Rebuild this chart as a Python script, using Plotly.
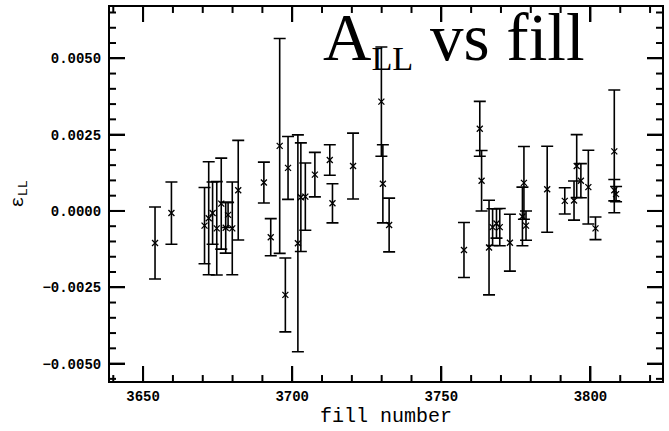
import plotly.graph_objects as go

# fill numbers, asymmetry values and their errors
fills = [3654.0, 3659.5, 3670.6, 3672.0, 3673.3, 3674.7, 3676.2, 3677.7, 3678.5,
         3679.9, 3681.9, 3690.5, 3692.8, 3695.8, 3697.7, 3698.6, 3701.9, 3702.9,
         3704.4, 3707.6, 3712.6, 3713.5, 3720.4, 3729.9, 3730.4, 3732.5, 3757.6,
         3762.9, 3763.5, 3766.0, 3767.2, 3768.5, 3769.6, 3773.0, 3777.2, 3777.7,
         3778.4, 3785.5, 3791.4, 3794.5, 3795.4, 3796.8, 3799.3, 3801.7, 3808.0,
         3808.0, 3808.6]
asym = [-1.05, -0.07, -0.48, -0.24, -0.07, -0.57, 0.24, -0.55, -0.13,
        -0.57, 0.68, 0.93, -0.86, 2.13, -2.75, 1.41, -1.06, 0.45,
        0.47, 1.19, 1.67, 0.25, 1.47, 3.58, 0.89, -0.46, -1.28,
        2.69, 0.99, -1.20, -0.53, -0.41, -0.53, -1.04, -0.18, 0.92,
        -0.48, 0.71, 0.33, 0.34, 1.47, 0.99, 0.78, -0.57, 1.95,
        0.68, 0.55]
errs = [1.18, 1.02, 1.25, 1.85, 1.02, 1.53, 1.49, 0.83, 0.41,
        1.52, 1.63, 0.67, 0.61, 3.52, 1.21, 1.03, 3.55, 1.78,
        1.10, 0.73, 0.50, 0.64, 1.08, 1.79, 1.28, 0.88, 0.90,
        0.90, 0.99, 1.55, 0.60, 0.48, 0.61, 0.93, 0.96, 1.19,
        0.48, 1.41, 0.43, 0.64, 1.03, 0.56, 1.21, 0.37, 2.01,
        0.35, 0.25]
asym = [a * 1e-3 for a in asym]
errs = [e * 1e-3 for e in errs]

x_ticks = [3650, 3700, 3750, 3800]
x_minor = [3640, 3660, 3670, 3680, 3690, 3710, 3720, 3730, 3740,
           3760, 3770, 3780, 3790, 3810, 3820]
y_ticks = [-0.005, -0.0025, 0.0, 0.0025, 0.005]
y_minor = [-0.0055, -0.0045, -0.004, -0.0035, -0.003, -0.002, -0.0015, -0.001,
           -0.0005, 0.0005, 0.001, 0.0015, 0.002, 0.003, 0.0035, 0.004, 0.0045,
           0.0055, 0.006, 0.0065]

W, H = 669, 431
M = dict(l=110, r=7, t=5, b=50)
plot_w = W - M["l"] - M["r"]
plot_h = H - M["t"] - M["b"]
MAJ, MIN = 15, 6  # tick lengths in px

fig = go.Figure()
fig.add_trace(go.Scatter(
    x=fills, y=asym, mode="markers",
    marker=dict(symbol="x-thin", size=6, color="black",
                line=dict(width=1.3, color="black")),
    error_y=dict(type="data", array=errs, visible=True, color="black",
                 thickness=1.6, width=6),
    showlegend=False,
))

# tick marks on all four sides, pointing inward
tick_line = dict(color="black", width=2)
shapes = []
for vals, ln in ((x_ticks, MAJ), (x_minor, MIN)):
    f = ln / plot_h
    for v in vals:
        shapes.append(dict(type="line", xref="x", yref="paper", x0=v, x1=v,
                           y0=0, y1=f, line=tick_line, layer="above"))
        shapes.append(dict(type="line", xref="x", yref="paper", x0=v, x1=v,
                           y0=1, y1=1 - f, line=tick_line, layer="above"))
for vals, ln in ((y_ticks, MAJ), (y_minor, MIN)):
    f = ln / plot_w
    for v in vals:
        shapes.append(dict(type="line", xref="paper", yref="y", y0=v, y1=v,
                           x0=0, x1=f, line=tick_line, layer="above"))
        shapes.append(dict(type="line", xref="paper", yref="y", y0=v, y1=v,
                           x0=1, x1=1 - f, line=tick_line, layer="above"))

tickfont = dict(family="Liberation Mono", size=14, color="black", weight="bold")

fig.update_layout(
    width=W, height=H, margin=M,
    paper_bgcolor="white", plot_bgcolor="white",
    shapes=shapes,
    xaxis=dict(range=[3638.9, 3824], tickmode="array", tickvals=x_ticks,
               ticktext=[str(v) for v in x_ticks],
               showline=True, linecolor="black", linewidth=2, mirror="allticks",
               ticks="inside", ticklen=MAJ, tickwidth=2, tickcolor="black",
               showgrid=False, zeroline=False, tickfont=tickfont,
               ticklabelstandoff=1,
               title=dict(text="fill number",
                          font=dict(family="Liberation Mono", size=20, color="#000000"),
                          standoff=0)),
    yaxis=dict(range=[-0.00557, 0.00668], tickmode="array", tickvals=y_ticks,
               tickformat=".4f",
               showline=True, linecolor="black", linewidth=2, mirror="allticks",
               ticks="inside", ticklen=MAJ, tickwidth=2, tickcolor="black",
               showgrid=False, zeroline=False, tickfont=tickfont,
               ticklabelstandoff=4,
               title=dict(text="ε<sub>LL</sub>",
                          font=dict(family="Liberation Mono", size=19, color="#000000"),
                          standoff=14)),
    annotations=[dict(
        text="A<span style='font-size:49px'><sub>LL</sub></span> vs fill",
        xref="paper", yref="paper",
        x=0.382, y=1.024, xanchor="left", yanchor="top", showarrow=False,
        font=dict(family="Liberation Serif", size=67, color="#000000"),
    )],
)

fig.write_html("out.html")
